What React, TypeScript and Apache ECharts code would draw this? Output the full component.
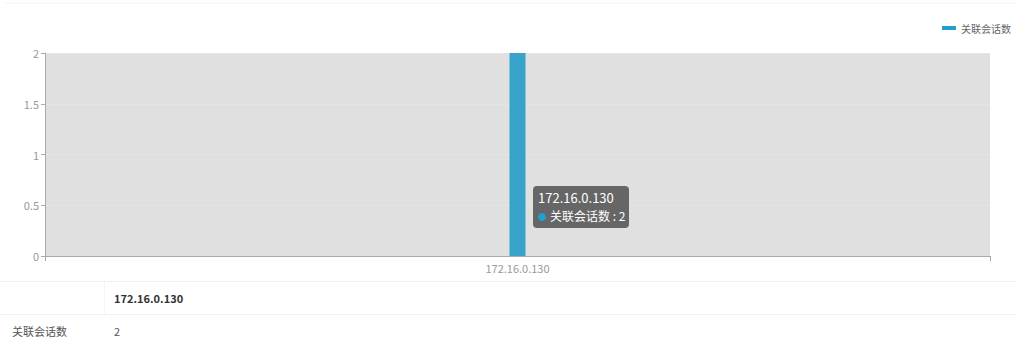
import React, { useEffect, useRef } from "react";
import * as echarts from "echarts";

const categories = ["172.16.0.130"];
const seriesName = "关联会话数";
const sessionCounts = [2];
const yTicks = [0, 0.5, 1, 1.5, 2];

const FONT = "'Microsoft YaHei', 'Noto Sans CJK SC', sans-serif";

export default function App() {
  const ref = useRef<HTMLDivElement>(null);
  useEffect(() => {
    if (!ref.current) return;
    const chart = echarts.init(ref.current, undefined, { renderer: "svg" });
    const lineColor = "#f0f0f0";
    chart.setOption({
      animation: false,
      textStyle: { fontFamily: FONT },
      legend: {
        right: 1,
        top: 18,
        icon: "rect",
        itemWidth: 14,
        itemHeight: 4,
        itemGap: 5,
        textStyle: { color: "#666", fontSize: 10, fontFamily: FONT },
        data: [{ name: seriesName, itemStyle: { color: "#1f9fd2" } }],
      },
      grid: {
        left: 45,
        right: 27,
        top: 53,
        bottom: 93,
        show: true,
        backgroundColor: "#e0e0e0",
        borderWidth: 0,
      },
      xAxis: {
        type: "category",
        data: categories,
        axisLine: { lineStyle: { color: "#aaa" } },
        axisTick: { show: true, alignWithLabel: false, lineStyle: { color: "#aaa" } },
        axisLabel: { color: "#999", fontSize: 11, margin: 6, fontFamily: FONT },
      },
      yAxis: {
        type: "value",
        min: yTicks[0],
        max: yTicks[yTicks.length - 1],
        interval: 0.5,
        axisLine: { show: true, lineStyle: { color: "#aaa" } },
        axisTick: { show: true, length: 4, lineStyle: { color: "#aaa" } },
        axisLabel: { color: "#999", fontSize: 11, margin: 6, fontFamily: FONT },
        splitLine: { show: true, lineStyle: { color: "#e5e5e5" } },
      },
      series: [
        {
          name: seriesName,
          type: "bar",
          data: sessionCounts,
          barWidth: 16,
          itemStyle: { color: "#38a3c9" },
        },
      ],
      graphic: [
        { type: "line", shape: { x1: 5, y1: 3, x2: 1017, y2: 3 }, style: { stroke: "#f3f3f3", lineWidth: 1 } },
        {
          type: "group",
          left: 533,
          top: 186,
          z: 100,
          children: [
            { type: "rect", z: 100, shape: { x: 0, y: 0, width: 96, height: 42, r: 4 }, style: { fill: "#666666" } },
            { type: "text", z: 101, x: 5, y: 5, style: { text: categories[0], fill: "#fff", fontSize: 13, fontFamily: FONT } },
            { type: "circle", z: 101, shape: { cx: 9, cy: 31, r: 4 }, style: { fill: "#1f9fd2" } },
            {
              type: "text",
              z: 101,
              x: 17,
              y: 23,
              style: { text: `${seriesName} : ${sessionCounts[0]}`, fill: "#fff", fontSize: 12, fontFamily: FONT },
            },
          ],
        },
        { type: "line", shape: { x1: 0, y1: 281.5, x2: 1017, y2: 281.5 }, style: { stroke: lineColor, lineWidth: 1 } },
        { type: "line", shape: { x1: 0, y1: 314.5, x2: 1017, y2: 314.5 }, style: { stroke: lineColor, lineWidth: 1 } },
        { type: "line", shape: { x1: 104.5, y1: 282, x2: 104.5, y2: 314 }, style: { stroke: "#f5f5f5", lineWidth: 1 } },
        {
          type: "text",
          x: 114,
          y: 292,
          style: { text: categories[0], fill: "#333", fontSize: 11, fontWeight: "bold", fontFamily: FONT },
        },
        { type: "text", x: 12, y: 325, style: { text: seriesName, fill: "#555", fontSize: 11, fontFamily: FONT } },
        { type: "text", x: 114, y: 325, style: { text: String(sessionCounts[0]), fill: "#555", fontSize: 11, fontFamily: FONT } },
      ],
    });
    return () => chart.dispose();
  }, []);
  return (
    <div
      ref={ref}
      style={{ position: "absolute", left: 0, top: 0, width: 1017, height: 349, background: "#fff" }}
    />
  );
}
